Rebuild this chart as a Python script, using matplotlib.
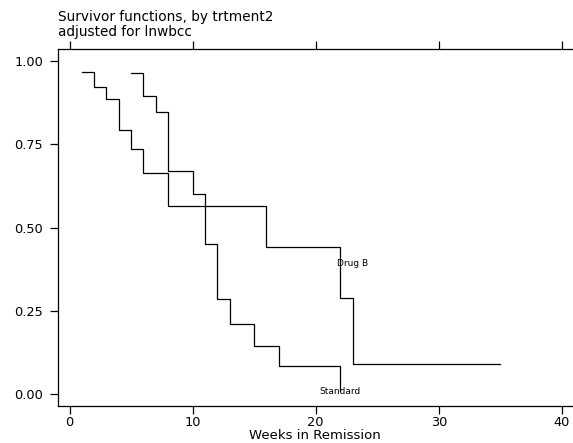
import numpy as np
import matplotlib.pyplot as plt

plt.rcParams["font.family"] = ["DejaVu Sans"]

# step curves (time, survivor probability from that time on)
drugb_t = [1, 2, 3, 4, 5, 6, 8, 16, 22, 23, 35]
drugb_s = [0.967, 0.920, 0.885, 0.793, 0.736, 0.663, 0.565, 0.442, 0.290, 0.092, 0.092]

std_t = [5, 6, 7, 8, 10, 11, 12, 13, 15, 17, 22]
std_s = [0.964, 0.895, 0.847, 0.669, 0.602, 0.450, 0.285, 0.210, 0.144, 0.084, 0.010]

xticks = [0, 10, 20, 30, 40]
yticks = [0.0, 0.25, 0.5, 0.75, 1.0]
ytick_labels = ["0.00", "0.25", "0.50", "0.75", "1.00"]

fig = plt.figure(figsize=(5.73, 4.43), dpi=100)
ax = fig.add_axes([0.1007, 0.0840, 0.8993, 0.8047])

ax.step(drugb_t, drugb_s, where="post", color="black", lw=0.9)
ax.step(std_t, std_s, where="post", color="black", lw=0.9)

# curve labels
ax.text(22.97, 0.392, "Drug B", fontsize=6.5, ha="center", va="center")
ax.text(22.0, 0.010, "Standard", fontsize=6.5, ha="center", va="center")

ax.set_xlim(-0.96, 40.9)
ax.set_ylim(-0.034, 1.034)
ax.set_xticks(xticks)
ax.set_yticks(yticks)
ax.set_yticklabels(ytick_labels)
ax.tick_params(axis="both", direction="out", length=5.5, width=0.9, labelsize=9.3)
ax.tick_params(axis="x", top=True, pad=2)
ax.tick_params(axis="y", pad=5)
ax.spines["right"].set_visible(False)
for s in ["left", "bottom", "top"]:
    ax.spines[s].set_linewidth(0.9)

ax.set_xlabel("Weeks in Remission", fontsize=9.5, labelpad=0)

fig.text(0.101, 0.962, "Survivor functions, by trtment2", fontsize=9.8, va="center")
fig.text(0.101, 0.927, "adjusted for lnwbcc", fontsize=9.8, va="center")

fig.savefig("out.png", dpi=100)
